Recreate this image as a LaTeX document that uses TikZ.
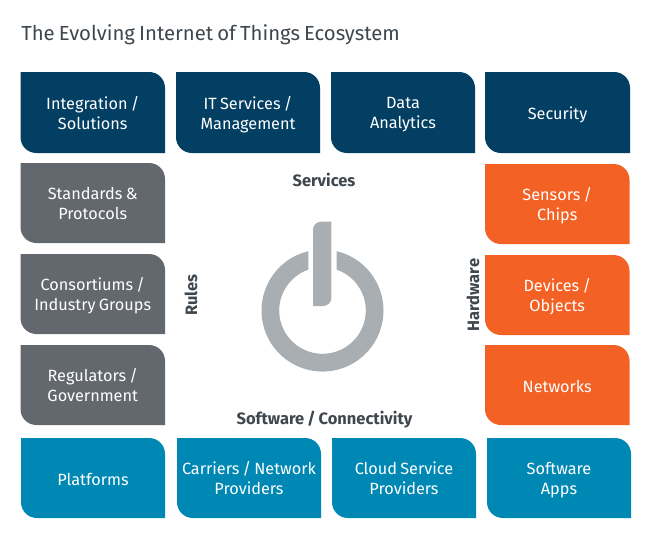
\documentclass[tikz,border=0pt]{standalone}
\usepackage{fontspec}
\setmainfont[WordSpace=0.75]{Fira Sans}
\definecolor{navy}{HTML}{023F62}
\definecolor{slate}{HTML}{62686E}
\definecolor{tang}{HTML}{F46125}
\definecolor{teal}{HTML}{0088B5}
\definecolor{ring}{HTML}{A9AEB3}
\definecolor{ink}{HTML}{3F474E}
\newcommand{\tile}[7]{% name,colour,x1,y1,x2,y2,text
  \fill[#2] (#3,#4) -- (#5-16,#4) .. controls (#5-7,#4) and (#5,#4+7) .. (#5,#4+16) -- (#5,#6) -- (#3+16,#6) .. controls (#3+7,#6) and (#3,#6-7) .. (#3,#6-16) -- cycle;
  \node[tiletext] (#1) at ({(#3+#5)/2},{(#4+#6)/2+3}) {#7};
}
\begin{document}
\begin{tikzpicture}[x=0.75pt,y=-0.75pt,
  tiletext/.style={text=white,align=center,font=\fontsize{12.2pt}{15pt}\selectfont,inner sep=0pt,execute at begin node=\strut},
  heading/.style={text=ink,font=\fontsize{12.35pt}{14pt}\selectfont\bfseries,inner sep=0pt}]
\useasboundingbox (0,0) rectangle (650,551);
\fill[white] (0,0) rectangle (650,551);
\node[anchor=west,inner sep=0pt,text=ink,font=\fontsize{15.25pt}{18pt}\selectfont] (title) at (21,35) {The Evolving Internet of Things Ecosystem};
\tile{a1}{navy}{20.5}{72}{165}{153}{Integration /\\\strut Solutions}
\tile{a2}{navy}{176}{72}{320}{153}{IT Services /\\\strut Management}
\tile{a3}{navy}{331}{72}{475}{153}{Data\\\strut Analytics}
\tile{a4}{navy}{485}{72}{630}{153}{Security}
\tile{b1}{slate}{20.5}{163}{165}{243}{Standards \&\\\strut Protocols}
\tile{b2}{slate}{20.5}{254}{165}{334}{Consortiums /\\\strut Industry Groups}
\tile{b3}{slate}{20.5}{345}{165}{425}{Regulators /\\\strut Government}
\tile{c1}{tang}{485}{164}{629.5}{244}{Sensors /\\\strut Chips}
\tile{c2}{tang}{485}{255}{629.5}{335}{Devices /\\\strut Objects}
\tile{c3}{tang}{485}{345}{629.5}{425}{Networks}
\tile{d1}{teal}{21}{438}{165}{518}{Platforms}
\tile{d2}{teal}{177}{438}{321}{518}{Carriers / Network\\\strut Providers}
\tile{d3}{teal}{332}{438}{476}{518}{Cloud Service\\\strut Providers}
\tile{d4}{teal}{487}{438}{631}{518}{Software\\\strut Apps}
\node[heading] (services) at (324,179.5) {Services};
\node[heading] (software) at (324.5,419.5) {Software / Connectivity};
\node[heading,rotate=90] (rules) at (191,295) {Rules};
\node[heading,rotate=90] (hardware) at (473,295) {Hardware};
\coordinate (o) at (322.5,310.5);
\fill[ring] (308.3,251.2) arc[start angle=256.54,end angle=-76.54,radius=61] -- (336.7,269.6) arc[start angle=-70.86,end angle=250.86,radius=43.3] -- cycle;
\fill[ring] (313,306) -- (313,229.7) .. controls (313,225) and (317,221.7) .. (321,221.7) -- (331.3,221.7) -- (331.3,298) .. controls (331.3,303) and (327,306) .. (323,306) -- cycle;
\end{tikzpicture}
\end{document}
